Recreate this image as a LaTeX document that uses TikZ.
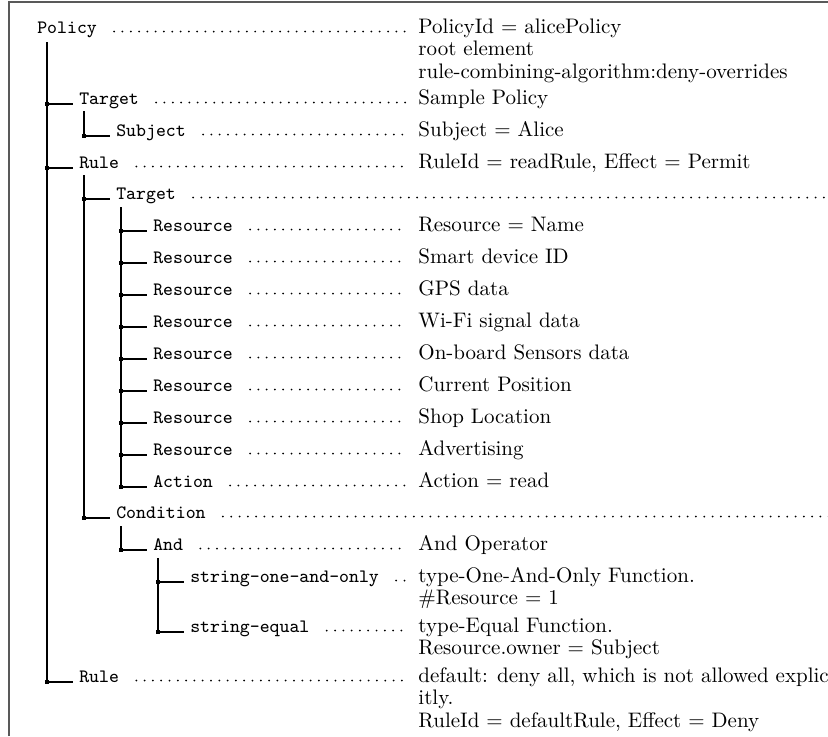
\documentclass[tikz,border=0pt]{standalone}
\usepackage{tikz}
\usetikzlibrary{calc}
\newcommand{\rows}[1]{\begin{tabular}[t]{@{}l@{}}#1\end{tabular}}

\begin{document}
\begin{tikzpicture}[x=0.476pt,y=-0.476pt,
  item/.style={anchor=base west,inner xsep=2.8pt,inner ysep=0pt,font=\fontsize{9}{10}\selectfont\ttfamily},
  note/.style={anchor=base west,inner sep=0pt,font=\fontsize{10}{9.6}\selectfont\rmfamily\def\arraystretch{1.12}},
  leader/.style={line width=0.95pt,line cap=round,dash pattern=on 0pt off 3.95pt},
  branch/.style={line width=0.55pt,draw=black},
  knot/.style={rectangle,fill=black,inner sep=0pt,minimum size=2.1pt},
  frame/.style={line width=0.8pt,draw=black!65}]
\useasboundingbox (0,0) rectangle (828,736);
\draw[frame] (9,736) -- (9,2) -- (828,2);
% names
\node[item] (pol)   at (31,33)   {Policy};
\node[item] (tgtA)  at (73,104)  {Target};
\node[item] (subj)  at (110,136) {Subject};
\node[item] (ruleA) at (73,168)  {Rule};
\node[item] (tgtB)  at (110,199) {Target};
\node[item] (res1)  at (147,231) {Resource};
\node[item] (res2)  at (147,263) {Resource};
\node[item] (res3)  at (147,295) {Resource};
\node[item] (res4)  at (147,327) {Resource};
\node[item] (res5)  at (147,359) {Resource};
\node[item] (res6)  at (147,391) {Resource};
\node[item] (res7)  at (147,423) {Resource};
\node[item] (res8)  at (147,455) {Resource};
\node[item] (act)   at (147,487) {Action};
\node[item] (cond)  at (110,518) {Condition};
\node[item] (and)   at (147,550) {And};
\node[item] (one)   at (184,582) {string-one-and-only};
\node[item] (eq)    at (184,632) {string-equal};
\node[item] (ruleB) at (73,682)  {Rule};
% notes
\node[note] (polN)   at (418,33)  {\rows{PolicyId = alicePolicy\\root element\\rule-combining-algorithm:deny-overrides}};
\node[note] (tgtAN)  at (418,104) {Sample Policy};
\node[note] (subjN)  at (418,136) {Subject = Alice};
\node[note] (ruleAN) at (418,168) {RuleId = readRule, Effect = Permit};
\node[note] (res1N)  at (418,231) {Resource = Name};
\node[note] (res2N)  at (418,263) {Smart device ID};
\node[note] (res3N)  at (418,295) {GPS data};
\node[note] (res4N)  at (418,327) {Wi-Fi signal data};
\node[note] (res5N)  at (418,359) {On-board Sensors data};
\node[note] (res6N)  at (418,391) {Current Position};
\node[note] (res7N)  at (418,423) {Shop Location};
\node[note] (res8N)  at (418,455) {Advertising};
\node[note] (actN)   at (418,487) {Action = read};
\node[note] (andN)   at (418,550) {And Operator};
\node[note] (oneN)   at (418,582) {\rows{type-One-And-Only Function.\\\#Resource = 1}};
\node[note] (eqN)    at (418,632) {\rows{type-Equal Function.\\Resource.owner = Subject}};
\node[note] (ruleBN) at (418,682) {\rows{default: deny all, which is not allowed explic-\\itly.\\RuleId = defaultRule, Effect = Deny}};
\coordinate (tgtBE) at (836,197.5);
\coordinate (condE) at (836,516.5);
% leaders
\foreach \a in {pol,tgtA,subj,ruleA,res1,res2,res3,res4,res5,res6,res7,res8,act,and,one,eq,ruleB}
  \draw[leader] ($(\a.base east)+(11,-1.5)$) -- ($(\a N.base west)+(-12,-1.5)$);
\draw[leader] ($(tgtB.base east)+(11,-1.5)$) -- (tgtBE);
\draw[leader] ($(cond.base east)+(11,-1.5)$) -- (condE);
% tree
\coordinate (polV)   at ($(pol.base west)+(16,9)$);
\coordinate (tgtAV)  at ($(tgtA.base west)+(11,7)$);
\coordinate (ruleAV) at ($(ruleA.base west)+(11,7)$);
\coordinate (tgtBV)  at ($(tgtB.base west)+(11,8)$);
\coordinate (condV)  at ($(cond.base west)+(11,8)$);
\coordinate (andV)   at ($(and.base west)+(11,8)$);
\foreach \c in {tgtA,ruleA,ruleB}
  \draw[branch] (polV) |- (\c.base west) node[knot,pos=0.5] {};
\draw[branch] (tgtAV) |- (subj.base west) node[knot,pos=0.5] {};
\foreach \c in {tgtB,cond}
  \draw[branch] (ruleAV) |- (\c.base west) node[knot,pos=0.5] {};
\foreach \c in {res1,res2,res3,res4,res5,res6,res7,res8,act}
  \draw[branch] (tgtBV) |- (\c.base west) node[knot,pos=0.5] {};
\draw[branch] (condV) |- (and.base west) node[knot,pos=0.5] {};
\foreach \c in {one,eq}
  \draw[branch] (andV) |- (\c.base west) node[knot,pos=0.5] {};
\end{tikzpicture}
\end{document}
